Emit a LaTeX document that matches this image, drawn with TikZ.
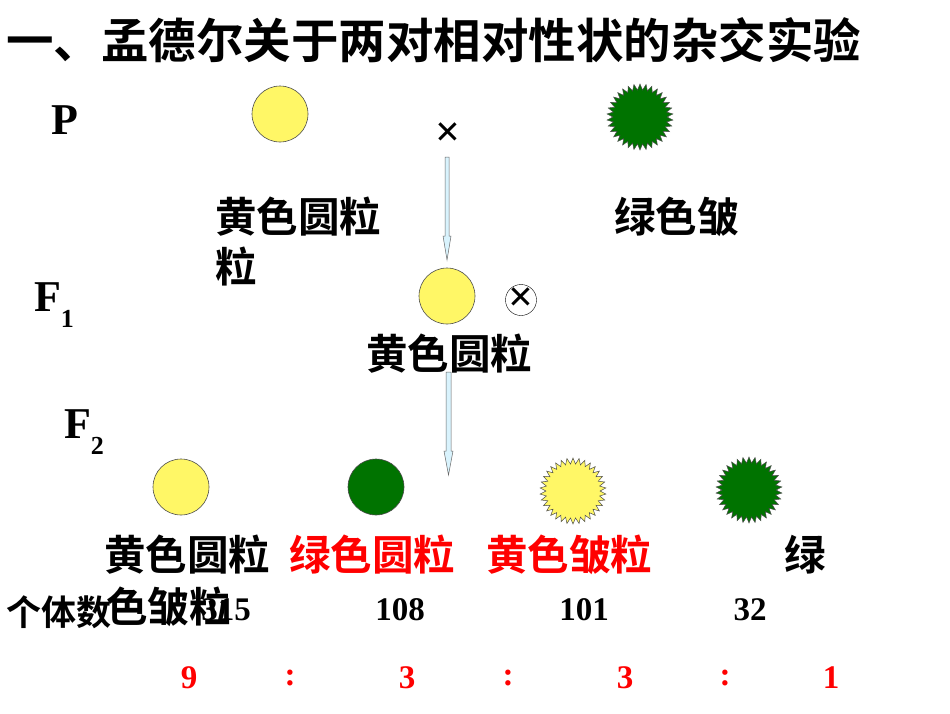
\documentclass[tikz,border=0pt]{standalone}
\usepackage{fontspec}
\setmainfont{Liberation Serif}
\newfontfamily\cjk{Noto Sans CJK SC}[BoldFont={Noto Sans CJK SC Bold}]
\usetikzlibrary{shapes.geometric}
\begin{document}
\begin{tikzpicture}[x=1pt,y=-1pt,
  ball/.style={circle,draw=black!70,line width=0.6pt,minimum size=56pt,inner sep=0pt},
  burst/.style={star,star points=34,star point ratio=1.22,draw=black!70,line width=0.5pt,minimum size=66pt,inner sep=0pt},
  lab/.style={font=\cjk\bfseries\fontsize{41.5}{44}\selectfont,inner sep=0pt,anchor=west},
  num/.style={font=\bfseries\fontsize{33}{36}\selectfont,inner sep=0pt},
  rat/.style={font=\bfseries\fontsize{33}{36}\selectfont,inner sep=0pt,text=red},
  gen/.style={font=\bfseries\fontsize{44}{48}\selectfont,inner sep=0pt},
  cross/.style={font=\bfseries\fontsize{44}{46}\selectfont,inner sep=0pt},
  arr/.style={draw=black!60,fill=cyan!15!white,line width=0.5pt}]
\useasboundingbox (0,0) rectangle (950,713);
\node[lab,font=\cjk\bfseries\fontsize{47.5}{50}\selectfont] (title) at (6,40) {一、孟德尔关于两对相对性状的杂交实验};
\node[gen] (P) at (65,120) {P};
\node[gen] (F1) at (54,305) {F\raisebox{-0.35em}{\fontsize{26}{28}\selectfont 1}};
\node[gen] (F2) at (84,432) {F\raisebox{-0.35em}{\fontsize{26}{28}\selectfont 2}};
\node[ball,fill=yellow!60] (py) at (280,114) {};
\node[burst,fill=green!45!black] (pg) at (640,117) {};
\node[cross] (x1) at (448,135) {×};
\node[lab] (ly1) at (215,217) {黄色圆粒};
\node[lab] (ly2) at (215,267) {粒};
\node[lab] (lg) at (614,217) {绿色皱};
\node[ball,fill=yellow!60] (f1) at (447,296) {};
\node[circle,draw,minimum size=31pt,inner sep=0pt] (self) at (521,300) {};
\node[cross] at (self.center) {×};
\node[lab] (lf1) at (366,354) {黄色圆粒};
\draw[arr] (445,157) -- (449,157) -- (449,236) -- (451,236) -- (447,260) -- (443,236) -- (445,236) -- cycle;
\draw[arr] (446,372) -- (451,372) -- (451,451) -- (453,451) -- (448.5,475) -- (444,451) -- (446,451) -- cycle;
\node[ball,fill=yellow!60] (a) at (181,487) {};
\node[ball,fill=green!45!black] (b) at (376,487) {};
\node[burst,fill=yellow!60] (c) at (573,491) {};
\node[burst,fill=green!45!black] (d) at (749,490) {};
\node[lab] (la) at (104,555) {黄色圆粒};
\node[lab,text=red] (lb) at (289,555) {绿色圆粒};
\node[lab,text=red] (lc) at (486,555) {黄色皱粒};
\node[lab] (ld) at (784,555) {绿};
\node[num] (na) at (226,610) {315};
\node[lab] (ld2) at (106,607) {色皱粒};
\node[lab,font=\cjk\bfseries\fontsize{35}{38}\selectfont] (cnt) at (6,612) {个体数};
\node[num] (nb) at (400,610) {108};
\node[num] (nc) at (584,610) {101};
\node[num] (nd) at (750,610) {32};
\node[rat] at (189,678) {9};
\node[rat] at (290,678) {:};
\node[rat] at (407,678) {3};
\node[rat] at (508,678) {:};
\node[rat] at (625,678) {3};
\node[rat] at (725,678) {:};
\node[rat] at (831,678) {1};
\end{tikzpicture}
\end{document}
